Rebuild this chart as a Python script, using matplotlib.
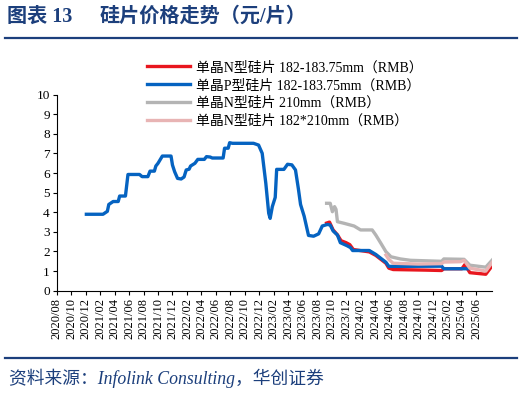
import matplotlib
matplotlib.use("Agg")
import matplotlib.pyplot as plt
import pandas as pd

# months counted from 2020/08
n182_x = [37.3, 37.7, 38.2, 38.8, 39.3, 40.0, 40.5, 41.0, 43.2, 44.1, 44.8, 45.5, 45.9, 46.5,
          51.0, 53.2, 53.5, 56.0, 56.4, 57.1, 59.3, 60.2]
n182_y = [3.45, 3.5, 3.1, 2.85, 2.55, 2.45, 2.35, 2.1, 1.98, 1.8, 1.6, 1.4, 1.15, 1.08,
          1.05, 1.03, 1.12, 1.12, 1.33, 0.92, 0.84, 1.28]

p182_x = [4.1, 6.4, 7.0, 7.2, 7.8, 8.5, 8.7, 9.5, 9.85, 11.45, 11.8, 12.6, 12.9, 13.5, 13.7, 14.0,
          14.6, 15.8, 16.0, 16.3, 16.7, 17.2, 17.6, 17.9, 18.3, 18.5, 19.1, 19.5, 20.4, 20.7,
          21.2, 21.5, 23.0, 23.2, 23.7, 23.9, 24.3, 27.2, 27.9, 28.4, 28.9, 29.3, 29.5, 29.8,
          30.2, 30.4, 31.4, 31.9, 32.5, 33.0, 33.4, 33.7, 34.2, 34.8, 35.5, 36.2, 36.7, 37.4,
          37.8, 38.2, 38.8, 39.2, 40.1, 40.6, 40.9, 43.2, 44.1, 44.8, 45.5, 45.9, 53.2, 53.5,
          56.8]
p182_y = [3.9, 3.9, 4.05, 4.4, 4.55, 4.55, 4.83, 4.83, 5.93, 5.93, 5.82, 5.82, 6.1, 6.1, 6.36, 6.5,
          6.87, 6.87, 6.41, 6.07, 5.73, 5.7, 5.8, 6.16, 6.2, 6.36, 6.5, 6.7, 6.7, 6.84,
          6.82, 6.77, 6.77, 7.27, 7.27, 7.55, 7.52, 7.52, 7.43, 7.01, 5.48, 3.95, 3.69, 4.29,
          4.76, 6.19, 6.19, 6.45, 6.42, 6.16, 5.2, 4.4, 3.8, 2.82, 2.78, 2.9, 3.3, 3.38,
          3.35, 3.05, 2.84, 2.45, 2.3, 2.2, 2.05, 2.05, 1.85, 1.65, 1.45, 1.24, 1.25, 1.12,
          1.12]

n210_x = [37.3, 37.8, 38.1, 38.4, 38.6, 38.8, 39.7, 41.1, 42.0, 43.6, 44.1, 44.8, 45.5, 46.2,
          47.5, 48.9, 53.2, 53.5, 56.3, 57.1, 59.3, 60.2]
n210_y = [4.46, 4.46, 4.03, 4.29, 4.15, 3.52, 3.44, 3.3, 3.1, 3.1, 2.84, 2.42, 1.99, 1.73,
          1.62, 1.55, 1.5, 1.62, 1.6, 1.3, 1.2, 1.57]

n182_210_x = [45.5, 45.9, 46.5, 50.0, 53.2, 53.5, 55.8, 56.3, 57.1, 59.3, 60.2]
n182_210_y = [1.82, 1.6, 1.4, 1.36, 1.38, 1.46, 1.48, 1.55, 1.15, 1.0, 1.45]

labels = ['单晶N型硅片 182-183.75mm（RMB）', '单晶P型硅片 182-183.75mm（RMB）',
          '单晶N型硅片 210mm（RMB）', '单晶N型硅片 182*210mm（RMB）']
colors = ['#E8161E', '#0563C1', '#B4B4B4', '#E8B4B4']

tick_pos = list(range(0, 59, 2))
tick_lab = list(pd.date_range('2020-08-01', '2025-06-01', freq='2MS').strftime('%Y/%m'))

serif = ['Liberation Serif', 'Noto Sans CJK SC']
navy = '#1C3F7C'
W, H = 524, 394

fig = plt.figure(figsize=(W / 100, H / 100), dpi=100)
ax = fig.add_axes([56.7 / W, 1 - 290.7 / H, (492.3 - 56.7) / W, (290.7 - 94.7) / H])

lines = []
for xs, ys, c in zip([n182_x, p182_x, n210_x, n182_210_x],
                     [n182_y, p182_y, n210_y, n182_210_y], colors):
    ln, = ax.plot(xs, ys, color=c, lw=2.4, solid_joinstyle='round')
    lines.append(ln)

ax.set_xlim(0, 60.2)
ax.set_ylim(0, 10)
ax.set_yticks(range(0, 11))
ax.set_yticklabels([str(v) for v in range(0, 11)], family=serif, fontsize=9.5)
ax.set_xticks(tick_pos)
ax.set_xticklabels(tick_lab, rotation=90, family=serif, fontsize=9)
ax.tick_params(direction='out', length=3, width=0.8, colors='black', pad=2)
for s in ['top', 'right']:
    ax.spines[s].set_visible(False)
for s in ['left', 'bottom']:
    ax.spines[s].set_linewidth(0.8)

fig.legend(lines, labels, loc='upper left', bbox_to_anchor=(147 / W, 1 - 61 / H),
           frameon=False, prop={'family': serif, 'size': 10}, handlelength=3.1,
           handletextpad=0.4, labelspacing=0.33, borderpad=0, borderaxespad=0)

# header and footer
fig.text(7 / W, 1 - 17 / H, '图表 13', family=serif, fontsize=14.5, weight='bold',
         color=navy, va='center')
fig.text(100 / W, 1 - 17 / H, '硅片价格走势（元/片）', family=serif, fontsize=14.5,
         weight='bold', color=navy, va='center')
fig.add_artist(plt.Line2D([5 / W, 517 / W], [1 - 38.3 / H] * 2, color=navy, lw=1.6))
fig.add_artist(plt.Line2D([5 / W, 517 / W], [1 - 358.3 / H] * 2, color=navy, lw=1.6))
fig.text(9 / W, 1 - 378.5 / H, '资料来源：Infolink Consulting，华创证券', family=serif,
         style='italic', fontsize=12.8, color=navy, va='center')

fig.savefig('out.png', dpi=100)
